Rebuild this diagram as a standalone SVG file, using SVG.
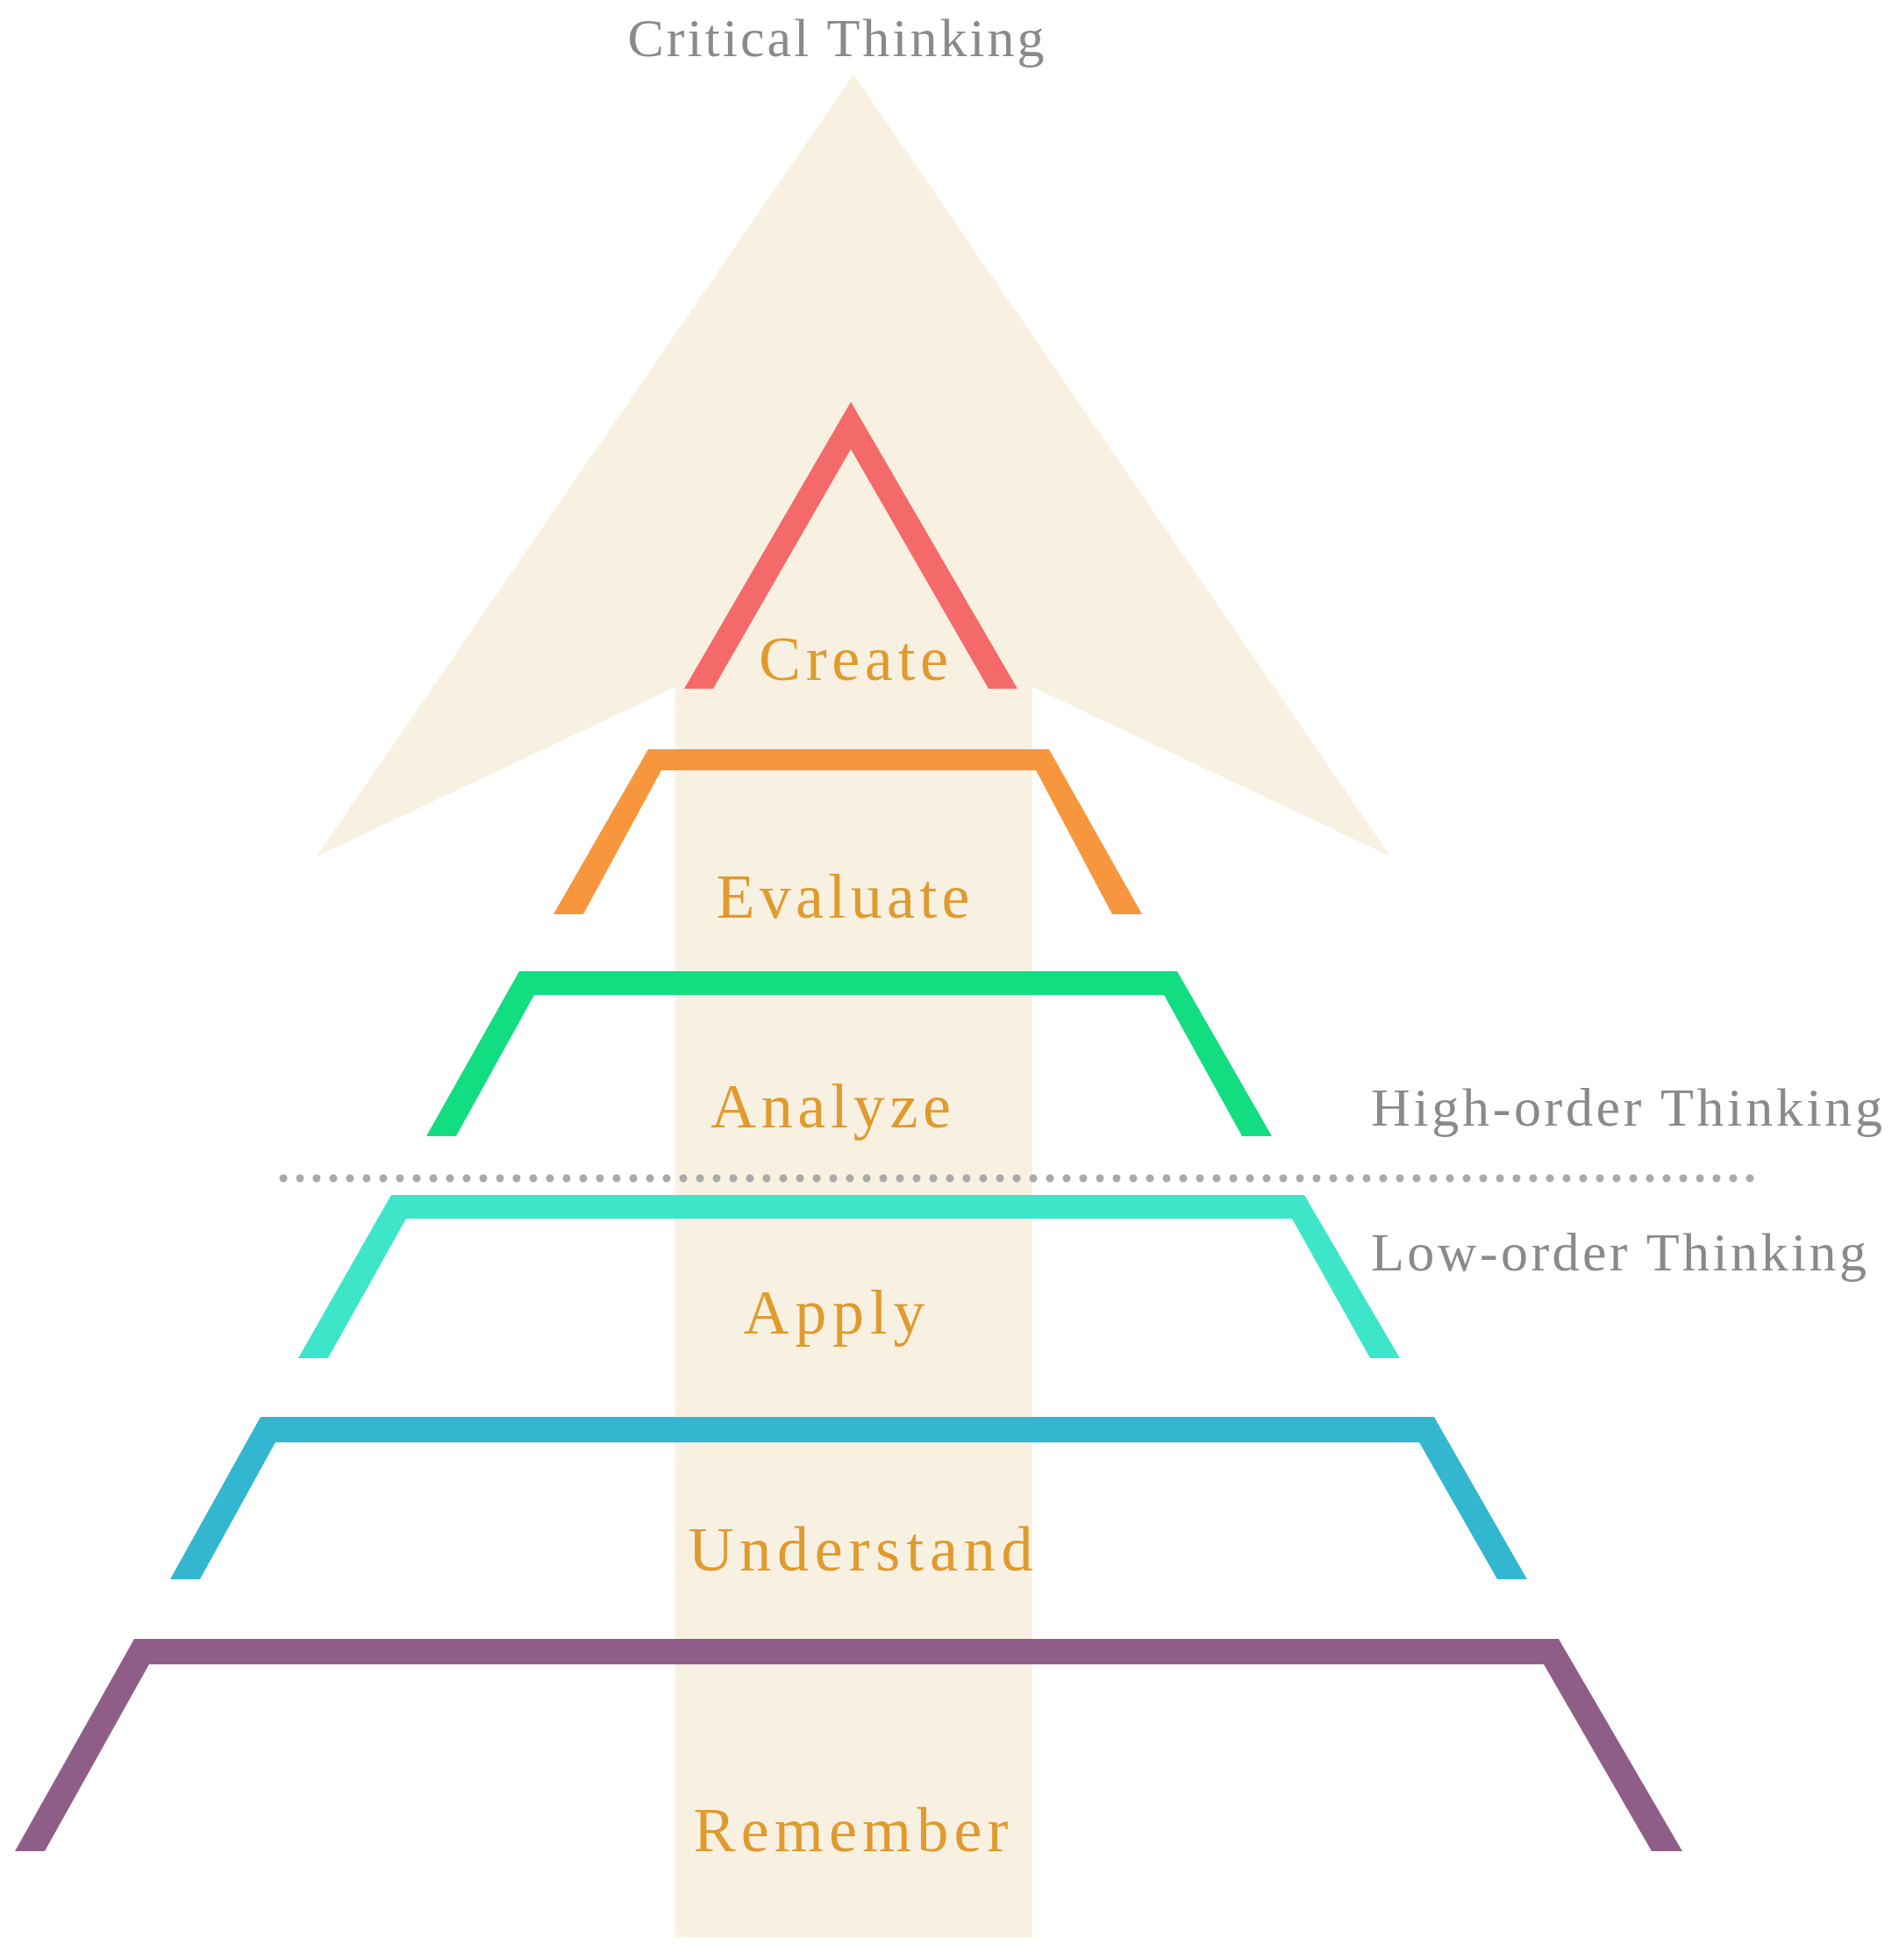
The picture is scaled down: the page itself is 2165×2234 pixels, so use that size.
<svg xmlns="http://www.w3.org/2000/svg" width="2165" height="2234" viewBox="0 0 2165 2234">
<style>
.lbl{font-family:"Liberation Serif","DejaVu Serif",serif;font-size:72px;fill:#e09a2e;text-anchor:middle}
.gry{font-family:"Liberation Serif","DejaVu Serif",serif;font-size:62px;fill:#8a8a8a}
</style>
<rect width="2165" height="2234" fill="#fff"/>
<g id="arrow"><polygon points="973,85 1585,976 1177,783 1177,2208 770,2208 770,783 361,976" fill="#f8f1e1"/></g>
<g id="create"><polygon points="970,458 1160,785 1127,785 970,512 813,785 780,785" fill="#f46a6a"/><text class="lbl" x="973" y="775" textLength="216">Create</text></g>
<g id="evaluate"><polygon points="739,854 1196,854 1302,1042 1268,1042 1181,878 754,878 665,1042 631,1042" fill="#f7963c"/><text class="lbl" x="961" y="1046" textLength="289">Evaluate</text></g>
<g id="analyze"><polygon points="592,1107 1342,1107 1450,1295 1416,1295 1327,1134 609,1134 520,1295 486,1295" fill="#12dd80"/><text class="lbl" x="947" y="1285" textLength="274">Analyze</text></g>
<g id="apply"><polygon points="446,1362 1487,1362 1596,1548 1562,1548 1473,1389 463,1389 374,1548 340,1548" fill="#3de6c8"/><text class="lbl" x="951" y="1520" textLength="207">Apply</text></g>
<g id="understand"><polygon points="297,1615 1635,1615 1741,1800 1707,1800 1618,1644 314,1644 228,1800 194,1800" fill="#33b7d0"/><text class="lbl" x="981" y="1790" textLength="393">Understand</text></g>
<g id="remember"><polygon points="153,1868 1777,1868 1918,2110 1883,2110 1760,1897 170,1897 51,2110 17,2110" fill="#8f5e88"/><text class="lbl" x="970" y="2110" textLength="359">Remember</text></g>
<g id="connectors"><line x1="323" y1="1343" x2="2010" y2="1343" stroke="#aaaaaa" stroke-width="9" stroke-linecap="round" stroke-dasharray="0 19"/></g>
<g id="labels">
<text class="gry" x="953" y="64" text-anchor="middle" textLength="475">Critical Thinking</text>
<text class="gry" x="1563" y="1283" textLength="583">High-order Thinking</text>
<text class="gry" x="1563" y="1448" textLength="565">Low-order Thinking</text>
</g>
</svg>
